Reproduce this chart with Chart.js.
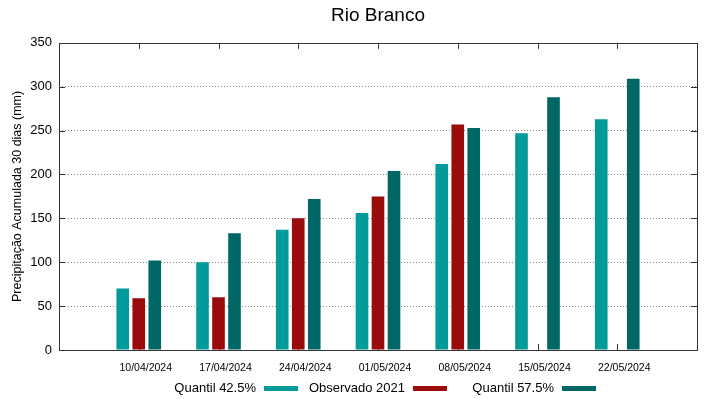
<!DOCTYPE html>
<html>
<head>
<meta charset="utf-8">
<script src="https://cdn.jsdelivr.net/npm/chart.js@4"></script>
<style>
    body { margin: 0; background: #ffffff; }
    #wrap { width: 719px; height: 399px; }
</style>
</head>
<body>
<div id="wrap"><canvas id="myChart" width="719" height="399"></canvas></div>
<script>
//Dates shown on the x axis
const dates = ['10/04/2024', '17/04/2024', '24/04/2024', '01/05/2024', '08/05/2024', '15/05/2024', '22/05/2024'];

//Accumulated precipitation per series (mm)
const quantil425 = [70, 100, 137, 156, 212, 247, 263];
const observado2021 = [59, 60, 150, 175, 257, null, null];
const quantil575 = [102, 133, 172, 204, 253, 288, 309];

//Tick values on the y axis
const yTicks = [0, 50, 100, 150, 200, 250, 300, 350];

const seriesNames = ['Quantil 42.5%', 'Observado 2021', 'Quantil 57.5%'];
const seriesColors = ['#039a9a', '#9a0b0b', '#006666'];

//empty slot on each side so the dates sit one step in from the box
function pad(arr)
{
    return [null].concat(arr, [null]);
}

const fontName = "'Liberation Sans', Arial, sans-serif";

//box, inward ticks and the key under the plot
const frame = {
    id: 'frame',
    beforeDatasetsDraw(chart) {
        const ctx = chart.ctx;
        const a = chart.chartArea;
        const x = chart.scales.x;
        const y = chart.scales.y;
        ctx.save();
        ctx.strokeStyle = '#333333';
        ctx.lineWidth = 1;
        ctx.beginPath();
        for (let i = 1; i <= dates.length; i++)
        {
            const px = Math.round(x.getPixelForValue(i)) + 0.5;
            ctx.moveTo(px, a.bottom); ctx.lineTo(px, a.bottom - 6);
            ctx.moveTo(px, a.top); ctx.lineTo(px, a.top + 6);
        }
        yTicks.forEach(v => {
            const py = Math.round(y.getPixelForValue(v)) + 0.5;
            ctx.moveTo(a.left, py); ctx.lineTo(a.left + 6, py);
            ctx.moveTo(a.right, py); ctx.lineTo(a.right - 6, py);
        });
        ctx.stroke();
        ctx.restore();
    },
    afterDatasetsDraw(chart) {
        const ctx = chart.ctx;
        const a = chart.chartArea;
        ctx.save();
        ctx.strokeStyle = '#333333';
        ctx.lineWidth = 1;
        ctx.strokeRect(Math.round(a.left) + 0.5, Math.round(a.top) + 0.5,
                       Math.round(a.right - a.left), Math.round(a.bottom - a.top));

        //key: text right aligned, then a sample of the colour
        const centre = (a.left + a.right) / 2;
        const yKey = 388;
        ctx.font = '13px ' + fontName;
        ctx.textAlign = 'right';
        ctx.textBaseline = 'middle';
        ctx.fillStyle = '#000000';
        for (let i = 0; i < seriesNames.length; i++)
        {
            const sampleEnd = centre - 80 + i * 149;
            const sampleStart = sampleEnd - 34;
            ctx.fillText(seriesNames[i], sampleStart - 8, yKey);
            ctx.fillStyle = seriesColors[i];
            ctx.fillRect(sampleStart, yKey - 2, 34, 5);
            ctx.fillStyle = '#000000';
        }
        ctx.restore();
    }
};

const ctx = document.getElementById('myChart').getContext('2d');

const myChart = new Chart(ctx, {
    type: 'bar',
    data: {
        labels: pad(dates).map(d => d === null ? '' : d),
        datasets: [
            { label: seriesNames[0], data: pad(quantil425), backgroundColor: seriesColors[0] },
            { label: seriesNames[1], data: pad(observado2021), backgroundColor: seriesColors[1] },
            { label: seriesNames[2], data: pad(quantil575), backgroundColor: seriesColors[2] }
        ]
    },
    options: {
        responsive: false,
        animation: false,
        categoryPercentage: 0.602,
        barPercentage: 0.79,
        layout: {
            padding: { left: 0, right: 22, top: 0, bottom: 0 }
        },
        plugins: {
            legend: { display: false },
            tooltip: { enabled: false },
            title: {
                display: true,
                text: 'Rio Branco',
                fullSize: false,
                color: '#000000',
                font: { family: fontName, size: 19, weight: 'normal' },
                padding: { top: 4, bottom: 16 }
            }
        },
        scales: {
            x: {
                offset: false,
                grid: { display: false, drawTicks: false },
                border: { display: false },
                ticks: {
                    color: '#000000',
                    font: { family: fontName, size: 10.5 },
                    padding: 12,
                    labelOffset: 7,
                    maxRotation: 0,
                    autoSkip: false
                },
                afterFit(scale) { scale.height = 49; }
            },
            y: {
                min: 0,
                max: 350,
                afterBuildTicks(scale) { scale.ticks = yTicks.map(v => ({ value: v })); },
                grid: {
                    drawTicks: false,
                    color: c => (c.tick.value === 0 || c.tick.value === 350) ? 'rgba(0,0,0,0)' : '#8c8c8c',
                    lineWidth: 1
                },
                border: { display: false, dash: [1, 2] },
                ticks: {
                    color: '#000000',
                    font: { family: fontName, size: 13 },
                    padding: 7
                },
                title: {
                    display: true,
                    text: 'Precipitação Acumulada 30 dias (mm)',
                    color: '#000000',
                    font: { family: fontName, size: 12.5 },
                    padding: 10
                },
                afterFit(scale) { scale.width = 59; }
            }
        }
    },
    plugins: [frame]
});
</script>
</body>
</html>
